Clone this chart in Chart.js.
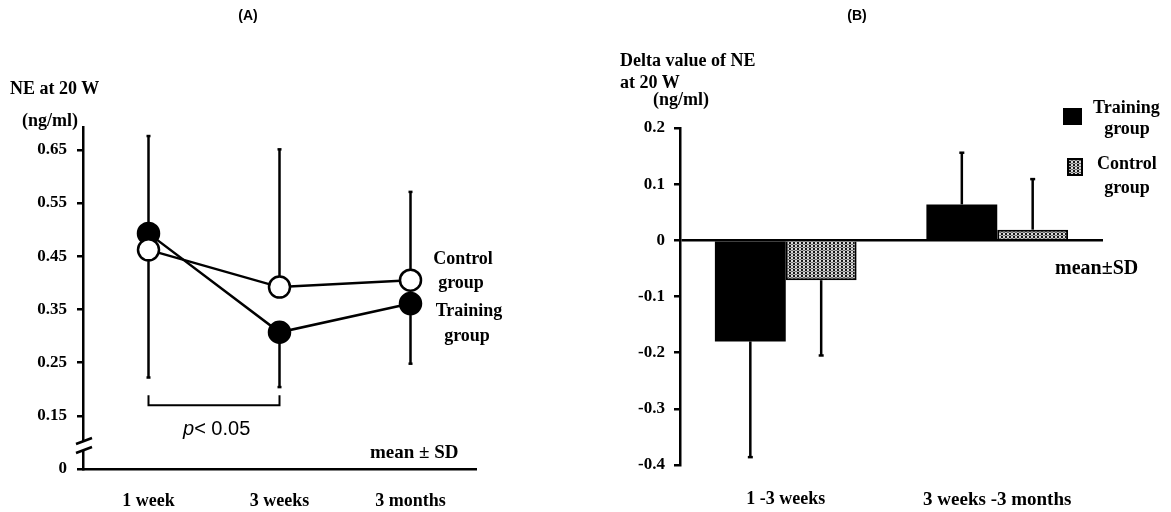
<!DOCTYPE html>
<html>
<head>
<meta charset="utf-8">
<script src="https://cdn.jsdelivr.net/npm/chart.js@4.4.0/dist/chart.umd.min.js"></script>
<style>
html,body{margin:0;padding:0;background:#fff;}
#wrap{position:relative;width:1171px;height:512px;overflow:hidden;background:#fff;}
canvas{position:absolute;top:0;}
#cA{left:0;width:580px;height:512px;}
#cB{left:580px;width:591px;height:512px;}
.t{position:absolute;font-family:"Liberation Serif","Times New Roman",serif;font-weight:bold;color:#000;white-space:nowrap;line-height:1;}
.c{transform:translateX(-50%);}
.s{font-family:"Liberation Sans",Arial,sans-serif;}
</style>
</head>
<body>
<div id="wrap">
<canvas id="cA" width="580" height="512"></canvas>
<canvas id="cB" width="591" height="512"></canvas>

<div class="t s c" style="left:248px;top:8px;font-size:14px;">(A)</div>
<div class="t s c" style="left:857px;top:8px;font-size:14px;">(B)</div>

<div class="t" style="left:10px;top:79px;font-size:18px;">NE at 20 W</div>
<div class="t" style="left:22px;top:111px;font-size:18px;">(ng/ml)</div>
<div class="t c" style="left:463px;top:249px;font-size:18px;">Control</div>
<div class="t c" style="left:461px;top:273px;font-size:18px;">group</div>
<div class="t c" style="left:469px;top:301px;font-size:18px;">Training</div>
<div class="t c" style="left:467px;top:326px;font-size:18px;">group</div>
<div class="t s" style="left:183px;top:418px;font-size:20px;font-weight:normal;"><i>p</i>&lt; 0.05</div>
<div class="t" style="left:370px;top:442px;font-size:19px;">mean ± SD</div>

<div class="t" style="left:620px;top:51px;font-size:18px;">Delta value of NE</div>
<div class="t" style="left:620px;top:73px;font-size:18px;">at 20 W</div>
<div class="t" style="left:653px;top:90px;font-size:18px;">(ng/ml)</div>
<div class="t" style="left:1093px;top:98px;font-size:18px;">Training</div>
<div class="t c" style="left:1127px;top:119px;font-size:18px;">group</div>
<div class="t" style="left:1097px;top:154px;font-size:18px;">Control</div>
<div class="t c" style="left:1127px;top:178px;font-size:18px;">group</div>
<div class="t" style="left:1055px;top:257px;font-size:20px;">mean±SD</div>
</div>

<script>
// ---------- Data: panel A ----------
const timepoints = ['1 week', '3 weeks', '3 months'];
const controlMean = [0.462, 0.392, 0.405];
const controlSD = [0.214, 0.259, 0.166];     // drawn upward
const trainingMean = [0.493, 0.307, 0.361];
const trainingSD = [0.271, 0.103, 0.113];    // drawn downward
const yTicksA = [0.05, 0.15, 0.25, 0.35, 0.45, 0.55, 0.65];
const yTickLabelsA = ['0', '0.15', '0.25', '0.35', '0.45', '0.55', '0.65'];

// ---------- Data: panel B ----------
const intervals = ['1 -3 weeks', '3 weeks -3 months'];
const trainingDelta = [-0.18, 0.064];
const trainingDeltaSD = [0.206, 0.092];
const controlDelta = [-0.071, 0.019];
const controlDeltaSD = [0.134, 0.090];
const yTicksB = [-0.4, -0.3, -0.2, -0.1, 0, 0.1, 0.2];
const yTickLabelsB = ['-0.4', '-0.3', '-0.2', '-0.1', '0', '0.1', '0.2'];

const SERIF = '"Liberation Serif", "Times New Roman", serif';
const LW = 2.5;

function drawCap(ctx, x, y, w) {
  ctx.beginPath(); ctx.moveTo(x - w / 2, y); ctx.lineTo(x + w / 2, y); ctx.stroke();
}

// ---------- Panel A ----------
const annA = {
  id: 'annA',
  beforeDatasetsDraw(chart) {
    const ctx = chart.ctx, xs = chart.scales.x, ys = chart.scales.y;
    ctx.save();
    ctx.strokeStyle = '#000'; ctx.lineWidth = LW;
    for (let i = 0; i < timepoints.length; i++) {
      const x = xs.getPixelForValue(i);
      const y0 = ys.getPixelForValue(controlMean[i]);
      const y1 = ys.getPixelForValue(controlMean[i] + controlSD[i]);
      ctx.beginPath(); ctx.moveTo(x, y0); ctx.lineTo(x, y1); ctx.stroke();
      drawCap(ctx, x, y1, 4);
      const y2 = ys.getPixelForValue(trainingMean[i]);
      const y3 = ys.getPixelForValue(trainingMean[i] - trainingSD[i]);
      ctx.beginPath(); ctx.moveTo(x, y2); ctx.lineTo(x, y3); ctx.stroke();
      drawCap(ctx, x, y3, 4);
    }
    ctx.restore();
  },
  afterDraw(chart) {
    const ctx = chart.ctx, xs = chart.scales.x, ys = chart.scales.y, a = chart.chartArea;
    ctx.save();
    ctx.strokeStyle = '#000'; ctx.lineWidth = 2;
    // significance bracket between 1 week and 3 weeks
    const xa = xs.getPixelForValue(0), xb = xs.getPixelForValue(1);
    const yb = ys.getPixelForValue(0.17);
    ctx.beginPath();
    ctx.moveTo(xa, yb - 10); ctx.lineTo(xa, yb); ctx.lineTo(xb, yb); ctx.lineTo(xb, yb - 10);
    ctx.stroke();
    // axis break
    const L = a.left, B = a.bottom;
    ctx.fillStyle = '#fff';
    ctx.fillRect(L - 3, B - 27, 6, 8);
    ctx.lineWidth = 2.5;
    ctx.beginPath();
    ctx.moveTo(L - 7, B - 25); ctx.lineTo(L + 9, B - 31);
    ctx.moveTo(L - 7, B - 16); ctx.lineTo(L + 9, B - 22);
    ctx.stroke();
    ctx.restore();
  }
};

new Chart(document.getElementById('cA'), {
  type: 'line',
  data: {
    labels: timepoints,
    datasets: [
      { label: 'Control group', data: controlMean, borderColor: '#000', borderWidth: LW,
        pointRadius: 10.5, pointBorderWidth: 2.5, pointBackgroundColor: '#fff', pointBorderColor: '#000',
        tension: 0, fill: false },
      { label: 'Training group', data: trainingMean, borderColor: '#000', borderWidth: LW,
        pointRadius: 10.5, pointBorderWidth: 2.5, pointBackgroundColor: '#000', pointBorderColor: '#000',
        tension: 0, fill: false }
    ]
  },
  options: {
    responsive: false, animation: false, events: [],
    layout: { padding: { left: 0, right: 104, top: 127, bottom: 0 } },
    plugins: { legend: { display: false }, tooltip: { enabled: false } },
    scales: {
      x: {
        type: 'category', offset: true,
        grid: { drawOnChartArea: false, drawTicks: false },
        border: { display: true, color: '#000', width: LW },
        ticks: { color: '#000', padding: 22, font: { family: SERIF, size: 18, weight: 'bold' } },
        afterFit(s) { s.height = 43; }
      },
      y: {
        type: 'linear', min: 0.05, max: 0.693,
        afterBuildTicks(s) { s.ticks = yTicksA.map(v => ({ value: v })); },
        grid: { drawOnChartArea: false, drawTicks: true, tickLength: 6, color: '#000', lineWidth: LW },
        border: { display: true, color: '#000', width: LW },
        ticks: { color: '#000', padding: 10, font: { family: SERIF, size: 17, weight: 'bold' },
          callback: (v, i) => yTickLabelsA[i] },
        afterFit(s) { s.width = 83; }
      }
    }
  },
  plugins: [annA]
});

// ---------- Panel B ----------
const cB = document.getElementById('cB');
function makePattern() {
  const p = document.createElement('canvas');
  p.width = 4; p.height = 3;
  const c = p.getContext('2d');
  c.fillStyle = '#fff'; c.fillRect(0, 0, 4, 3);
  c.strokeStyle = '#000'; c.lineWidth = 1;
  c.beginPath(); c.arc(2, 1.5, 1.2, 0, Math.PI * 2); c.stroke();
  return cB.getContext('2d').createPattern(p, 'repeat');
}
const dotPattern = makePattern();

const annB = {
  id: 'annB',
  afterDatasetsDraw(chart) {
    const ctx = chart.ctx, ys = chart.scales.y;
    ctx.save();
    ctx.strokeStyle = '#000'; ctx.lineWidth = LW;
    const sets = [[trainingDelta, trainingDeltaSD], [controlDelta, controlDeltaSD]];
    sets.forEach((s, d) => {
      const meta = chart.getDatasetMeta(d);
      s[0].forEach((m, i) => {
        const x = meta.data[i].x;
        const end = m < 0 ? m - s[1][i] : m + s[1][i];
        const y0 = ys.getPixelForValue(m), y1 = ys.getPixelForValue(end);
        ctx.beginPath(); ctx.moveTo(x, y0); ctx.lineTo(x, y1); ctx.stroke();
        drawCap(ctx, x, y1, 5);
      });
    });
    ctx.restore();
  },
  afterDraw(chart) {
    const ctx = chart.ctx;
    ctx.save();
    // legend swatches
    ctx.fillStyle = '#000';
    ctx.fillRect(483, 108, 19, 17);
    ctx.fillStyle = dotPattern;
    ctx.fillRect(487, 158, 16, 18);
    ctx.strokeStyle = '#000'; ctx.lineWidth = 2;
    ctx.strokeRect(488, 159, 14, 16);
    ctx.restore();
  }
};

new Chart(cB, {
  type: 'bar',
  data: {
    labels: intervals,
    datasets: [
      { label: 'Training group', data: trainingDelta, backgroundColor: '#000', borderColor: '#000', borderWidth: 0,
        barPercentage: 1, categoryPercentage: 0.67 },
      { label: 'Control group', data: controlDelta, backgroundColor: dotPattern, borderColor: '#000', borderWidth: 2,
        barPercentage: 1, categoryPercentage: 0.67 }
    ]
  },
  options: {
    responsive: false, animation: false, events: [],
    layout: { padding: { left: 0, right: 68, top: 128, bottom: 0 } },
    plugins: { legend: { display: false }, tooltip: { enabled: false } },
    scales: {
      x: {
        type: 'category', offset: true,
        grid: { display: false, drawTicks: false },
        border: { display: false },
        ticks: { color: '#000', padding: 24,
          font: (c) => (c.index === 1 ? { family: SERIF, size: 19, weight: 'bold' } : { family: SERIF, size: 18, weight: 'bold' }) },
        afterFit(s) { s.height = 47; }
      },
      y: {
        type: 'linear', min: -0.4, max: 0.2,
        afterBuildTicks(s) { s.ticks = yTicksB.map(v => ({ value: v })); },
        grid: { drawOnChartArea: true, drawTicks: true, tickLength: 6, lineWidth: LW, tickColor: '#000',
          color: (c) => (c.tick && c.tick.value === 0 ? '#000' : 'rgba(0,0,0,0)') },
        border: { display: true, color: '#000', width: LW },
        ticks: { color: '#000', padding: 9, font: { family: SERIF, size: 17, weight: 'bold' },
          callback: (v, i) => yTickLabelsB[i] },
        afterFit(s) { s.width = 100; }
      }
    }
  },
  plugins: [annB]
});
</script>
</body>
</html>
